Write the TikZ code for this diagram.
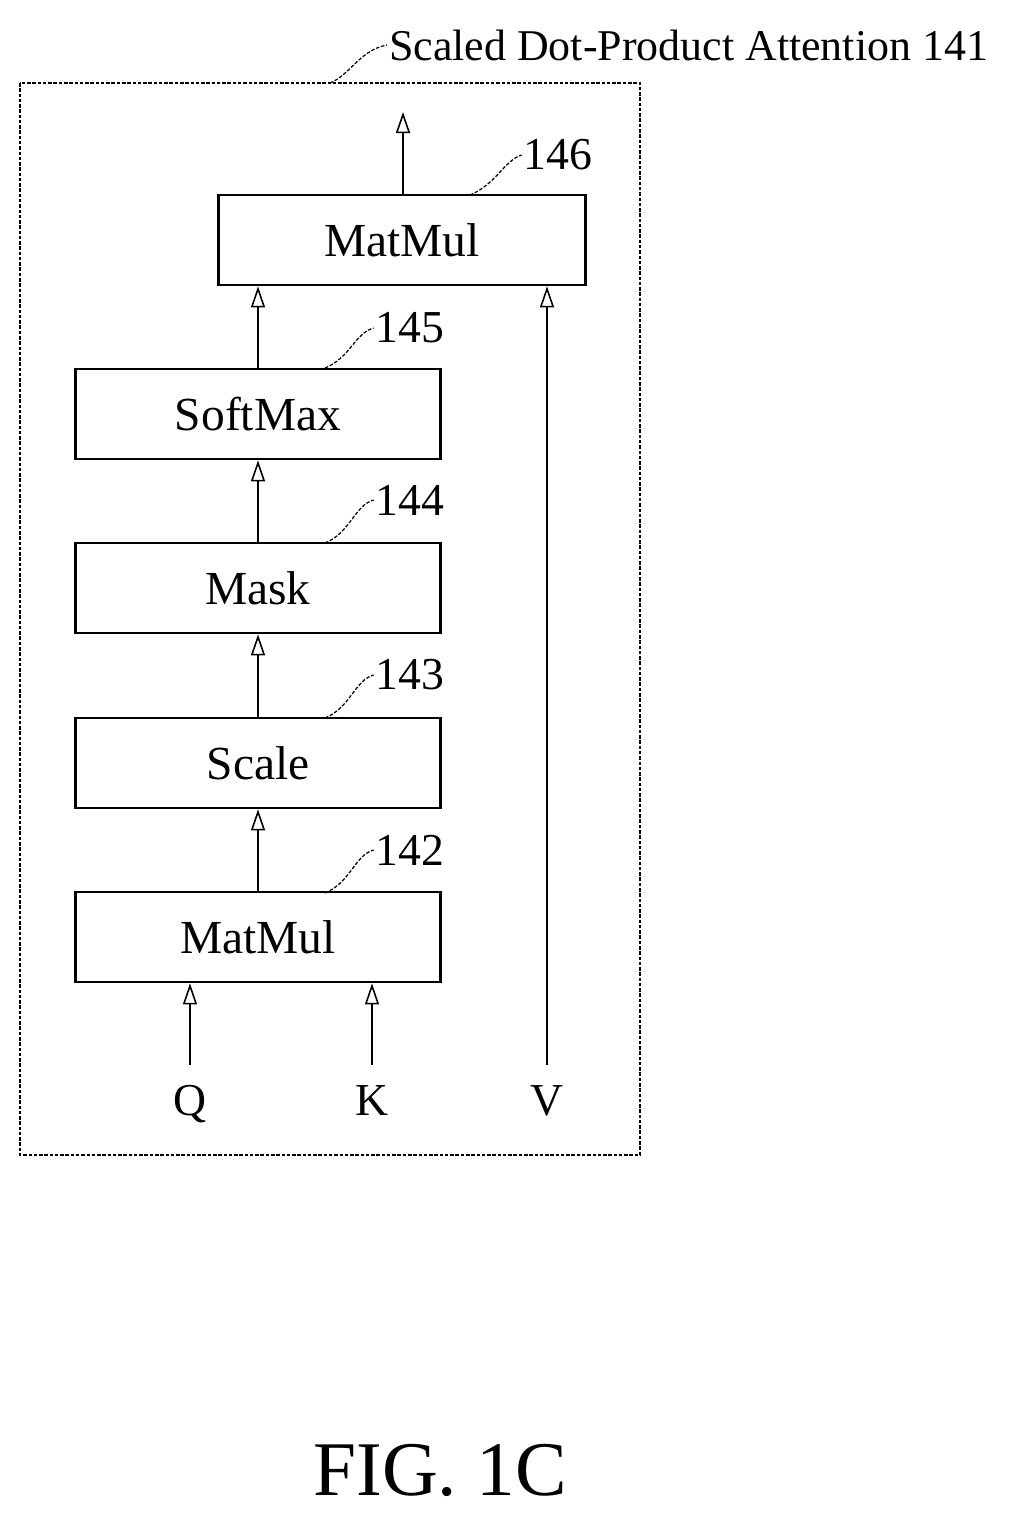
\documentclass[tikz,border=0pt]{standalone}
\usepackage{fontspec}
\setmainfont{Liberation Serif}
\usetikzlibrary{arrows.meta}
\begin{document}
\begin{tikzpicture}[x=0.02cm,y=-0.02cm,
  blk/.style={draw,line width=1.6pt,minimum width=7.3cm,minimum height=1.8cm,inner sep=0pt,font=\fontsize{27}{32}\selectfont},
  flow/.style={-{Triangle[open,length=12pt,width=8pt]},line width=0.9pt},
  lead/.style={line width=0.7pt,dashed,dash pattern=on 2pt off 1pt},
  num/.style={font=\fontsize{26}{31}\selectfont,inner sep=1pt}]
\useasboundingbox (0,0) rectangle (1011,1525);
% Outer frame
\draw[lead] (20,83) rectangle (640,1155);
\node[num,font=\fontsize{25}{30}\selectfont,anchor=west] (title) at (387,45) {Scaled Dot-Product Attention 141};
\draw[lead] (330,83) .. controls (350,75) and (360,50) .. (title.west);

% Blocks
\node[blk,minimum width=7.35cm] (mm2) at (402,240) {MatMul};
\node[blk] (soft) at (258,414) {SoftMax};
\node[blk] (mask) at (258,588) {Mask};
\node[blk] (scale) at (258,763) {Scale};
\node[blk] (mm1) at (258,937) {MatMul};

% Reference numbers
\node[num] (n146) at (558,155) {146};
\node[num] (n145) at (410,328) {145};
\node[num] (n144) at (410,500) {144};
\node[num] (n143) at (410,675) {143};
\node[num] (n142) at (410,850) {142};
\draw[lead] (470,195) .. controls (495,185) and (505,160) .. (n146.west);
\draw[lead] (325,368) .. controls (350,358) and (355,333) .. (n145.west);
\draw[lead] (325,543) .. controls (350,533) and (355,505) .. (n144.west);
\draw[lead] (325,718) .. controls (350,708) and (355,680) .. (n143.west);
\draw[lead] (325,893) .. controls (350,883) and (355,855) .. (n142.west);

% Inputs
\node[num,anchor=base] (q) at (190,1115) {Q};
\node[num,anchor=base] (k) at (372,1115) {K};
\node[num,anchor=base] (v) at (547,1115) {V};
\coordinate (out) at (403,112);
\coordinate (qin) at (190,1065);
\coordinate (kin) at (372,1065);
\coordinate (vin) at (547,1065);

% Connectors
\draw[flow] (qin) -- (qin |- mm1.south);
\draw[flow] (kin) -- (kin |- mm1.south);
\draw[flow] (vin) -- (vin |- mm2.south);
\draw[flow] (mm1) -- (scale);
\draw[flow] (scale) -- (mask);
\draw[flow] (mask) -- (soft);
\draw[flow] (soft.north) -- (soft.north |- mm2.south);
\draw[flow] (mm2.north -| out) -- (out);

\node[font=\fontsize{44}{52}\selectfont] (fig) at (440,1470) {FIG. 1C};
\end{tikzpicture}
\end{document}
